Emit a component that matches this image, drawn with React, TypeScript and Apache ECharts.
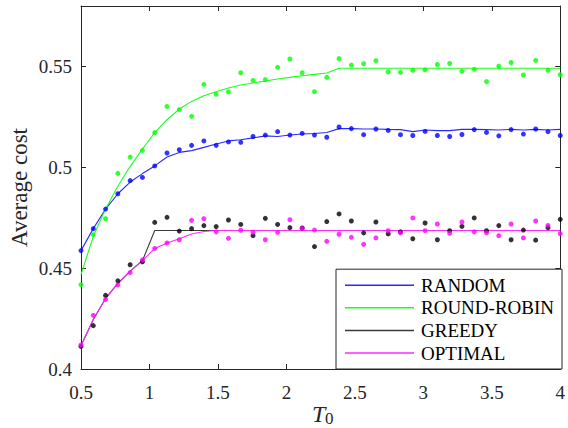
import React, { useEffect, useRef } from "react";
import * as echarts from "echarts";

const T0 = [
  0.5, 0.5897, 0.6795, 0.7692, 0.859, 0.9487, 1.0385, 1.1282, 1.2179, 1.3077,
  1.3974, 1.4872, 1.5769, 1.6667, 1.7564, 1.8462, 1.9359, 2.0256, 2.1154, 2.2051,
  2.2949, 2.3846, 2.4744, 2.5641, 2.6538, 2.7436, 2.8333, 2.9231, 3.0128, 3.1026,
  3.1923, 3.2821, 3.3718, 3.4615, 3.5513, 3.641, 3.7308, 3.8205, 3.9103, 4,
];

const randomPts = [
  0.4587, 0.4696, 0.4793, 0.4869, 0.4934, 0.495, 0.5007, 0.5071, 0.5087, 0.5109,
  0.5131, 0.5109, 0.5126, 0.5124, 0.5153, 0.516, 0.5177, 0.516, 0.5168, 0.516,
  0.5149, 0.52, 0.5192, 0.5162, 0.519, 0.5183, 0.5162, 0.5158, 0.5178, 0.5158,
  0.5153, 0.5163, 0.5187, 0.5173, 0.5156, 0.5187, 0.5165, 0.519, 0.5177, 0.5158,
];
const randomLine = [
  0.4587, 0.4696, 0.4793, 0.4869, 0.4927, 0.4969, 0.5007, 0.5051, 0.5074, 0.5083,
  0.5099, 0.5116, 0.5131, 0.5137, 0.5146, 0.5156, 0.5153, 0.516, 0.5165, 0.5168,
  0.5173, 0.5192, 0.5192, 0.519, 0.519, 0.5188, 0.5187, 0.5177, 0.5185, 0.5182,
  0.5182, 0.5188, 0.5188, 0.5187, 0.5185, 0.5188, 0.5185, 0.5188, 0.5185, 0.5188,
];
const roundRobinPts = [
  0.4418, 0.4666, 0.4745, 0.497, 0.5051, 0.5084, 0.5172, 0.5302, 0.5286, 0.5253,
  0.5411, 0.5362, 0.5374, 0.5469, 0.5431, 0.5435, 0.5496, 0.5537, 0.5469, 0.5375,
  0.5446, 0.5539, 0.5507, 0.5514, 0.5529, 0.5473, 0.5471, 0.5481, 0.5483, 0.551,
  0.5515, 0.5476, 0.5486, 0.5425, 0.5502, 0.552, 0.5458, 0.553, 0.5481, 0.5459,
];
const roundRobinLine = [
  0.4468, 0.4658, 0.4793, 0.4906, 0.5005, 0.5091, 0.5172, 0.5236, 0.5289, 0.5327,
  0.5355, 0.5375, 0.5393, 0.5408, 0.5418, 0.5428, 0.5438, 0.5446, 0.5454, 0.5461,
  0.5468, 0.5491, 0.5491, 0.5491, 0.5491, 0.5491, 0.5491, 0.5491, 0.5491, 0.5491,
  0.5491, 0.5491, 0.5491, 0.5491, 0.5491, 0.5491, 0.5491, 0.5491, 0.5491, 0.5491,
];
const greedyPts = [
  0.4112, 0.4215, 0.4365, 0.4437, 0.4517, 0.4532, 0.4727, 0.4752, 0.4684, 0.4696,
  0.4711, 0.4706, 0.4739, 0.4717, 0.4661, 0.4747, 0.4717, 0.4701, 0.4699, 0.4607,
  0.4731, 0.4769, 0.4734, 0.4675, 0.4729, 0.467, 0.468, 0.4646, 0.4724, 0.4641,
  0.4686, 0.4707, 0.4749, 0.4686, 0.4711, 0.4641, 0.4689, 0.4639, 0.4701, 0.4742,
];
const greedyLine = [
  0.4115, 0.4245, 0.435, 0.4425, 0.4485, 0.4537, 0.4687, 0.4687, 0.4687, 0.4687,
  0.4687, 0.4687, 0.4687, 0.4687, 0.4687, 0.4687, 0.4687, 0.4687, 0.4687, 0.4687,
  0.4687, 0.4687, 0.4687, 0.4687, 0.4687, 0.4687, 0.4687, 0.4687, 0.4687, 0.4687,
  0.4687, 0.4687, 0.4687, 0.4687, 0.4687, 0.4687, 0.4687, 0.4687, 0.4687, 0.4687,
];
const optimalPts = [
  0.4119, 0.4266, 0.4345, 0.4417, 0.4478, 0.4541, 0.4598, 0.4625, 0.4641, 0.4737,
  0.4745, 0.468, 0.4648, 0.4688, 0.4678, 0.4641, 0.4678, 0.474, 0.4696, 0.4689,
  0.4633, 0.4668, 0.4653, 0.4618, 0.465, 0.4686, 0.4675, 0.4749, 0.4686, 0.4719,
  0.4673, 0.4729, 0.468, 0.4675, 0.4661, 0.4719, 0.465, 0.4734, 0.4712, 0.4671,
];
const optimalLine = [
  0.4115, 0.4245, 0.435, 0.4425, 0.4485, 0.4537, 0.4598, 0.4625, 0.4646, 0.4669,
  0.4682, 0.4687, 0.4687, 0.4687, 0.4687, 0.4687, 0.4687, 0.4687, 0.4687, 0.4687,
  0.4687, 0.4687, 0.4687, 0.4687, 0.4687, 0.4687, 0.4687, 0.4687, 0.4687, 0.4687,
  0.4687, 0.4687, 0.4687, 0.4687, 0.4687, 0.4687, 0.4687, 0.4687, 0.4687, 0.4687,
];

const seriesNames = ["RANDOM", "ROUND-ROBIN", "GREEDY", "OPTIMAL"];
const lineColors = ["#2a2aff", "#1aff1a", "#3a3a3a", "#ff2aff"];
const dotColors = ["#0000ff", "#00ff00", "#000000", "#ff00ff"];
const lineValues = [randomLine, roundRobinLine, greedyLine, optimalLine];
const dotValues = [randomPts, roundRobinPts, greedyPts, optimalPts];

const FAMILY = "Liberation Serif";
const AX = "#262626";

const fmt = (v: number) => {
  const r = Math.round(v * 100) / 100;
  if (Math.abs(r * 20 - Math.round(r * 20)) > 1e-6) return "";
  return String(r);
};

const zip = (ys: number[]) => T0.map((x, i) => [x, ys[i]]);

export default function App() {
  const ref = useRef<HTMLDivElement>(null);
  useEffect(() => {
    if (!ref.current) return;
    const chart = echarts.init(ref.current, undefined, { renderer: "svg" });
    const axisCommon = {
      type: "value" as const,
      axisLine: { show: true, onZero: false, lineStyle: { color: AX, width: 1 } },
      axisTick: { show: true, inside: true, length: 5, lineStyle: { color: AX, width: 1 } },
      splitLine: { show: false },
    };
    const lineSeries = seriesNames.map((n, k) => ({
      name: n,
      type: "line",
      data: zip(lineValues[k]),
      showSymbol: false,
      symbol: "none",
      color: lineColors[k],
      itemStyle: { color: lineColors[k] },
      lineStyle: { color: lineColors[k], width: 1.1 },
      z: 2,
    }));
    const dotSeries = seriesNames.map((n, k) => ({
      name: n + " samples",
      type: "scatter",
      data: zip(dotValues[k]),
      symbol: "circle",
      symbolSize: 5,
      itemStyle: { color: dotColors[k] },
      z: 3,
    }));
    chart.setOption({
      animation: false,
      textStyle: { fontFamily: FAMILY },
      grid: { left: 81, right: 6, top: 6, bottom: 59, containLabel: false },
      xAxis: [
        {
          ...axisCommon,
          min: 0.5,
          max: 4,
          interval: 0.5,
          position: "bottom",
          axisLabel: { formatter: fmt, fontFamily: FAMILY, fontSize: 19, color: AX, margin: 14 },
        },
        {
          ...axisCommon,
          min: 0.5,
          max: 4,
          interval: 0.5,
          position: "top",
          axisLabel: { show: false },
        },
      ],
      yAxis: [
        {
          ...axisCommon,
          min: 0.4,
          max: 0.58,
          interval: 0.05,
          position: "left",
          axisLabel: { formatter: fmt, fontFamily: FAMILY, fontSize: 19, color: AX, margin: 9 },
        },
        {
          ...axisCommon,
          min: 0.4,
          max: 0.58,
          interval: 0.05,
          position: "right",
          axisLabel: { show: false },
        },
      ],
      legend: {
        orient: "vertical",
        right: 6,
        bottom: 59,
        itemWidth: 69,
        itemHeight: 1.5,
        itemGap: 2.6,
        padding: [6, 8, 6, 9],
        backgroundColor: "#ffffff",
        borderColor: AX,
        borderWidth: 1,
        borderRadius: 0,
        selectedMode: false,
        icon: "rect",
        textStyle: {
          fontFamily: FAMILY,
          fontSize: 19,
          color: "#000",
          lineHeight: 20,
          padding: [0, 0, 0, 2],
        },
        data: seriesNames,
        z: 10,
      },
      graphic: [
        {
          type: "text",
          x: 19,
          y: 187.5,
          rotation: Math.PI / 2,
          style: {
            text: "Average cost",
            fontFamily: FAMILY,
            fontSize: 23,
            fill: "#262626",
            align: "center",
            verticalAlign: "middle",
          },
        },
        {
          type: "text",
          x: 312,
          y: 414,
          style: {
            text: "T",
            fontFamily: FAMILY,
            fontSize: 24,
            fontStyle: "italic",
            fill: "#262626",
            align: "left",
            verticalAlign: "middle",
          },
        },
        {
          type: "text",
          x: 325,
          y: 418,
          style: {
            text: "0",
            fontFamily: FAMILY,
            fontSize: 17,
            fill: "#262626",
            align: "left",
            verticalAlign: "middle",
          },
        },
      ],
      series: [...lineSeries, ...dotSeries],
    });
    return () => chart.dispose();
  }, []);
  return (
    <div
      ref={ref}
      style={{ position: "fixed", left: 0, top: 0, width: 568, height: 428, background: "#fff" }}
    />
  );
}
